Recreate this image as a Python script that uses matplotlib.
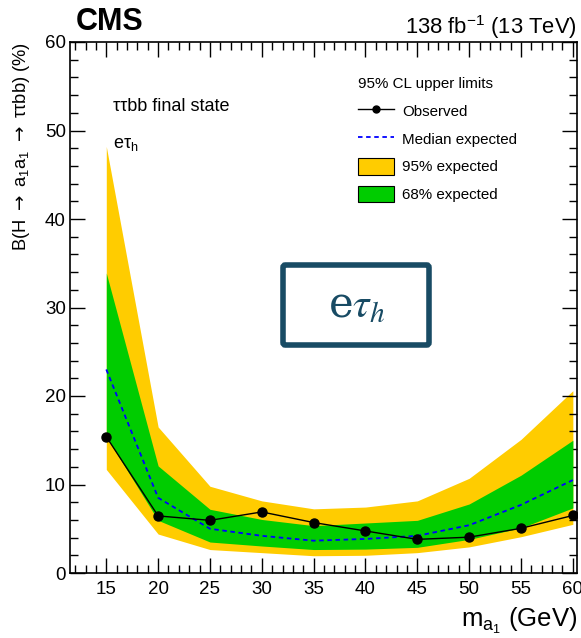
import matplotlib
matplotlib.use("Agg")
import matplotlib.pyplot as plt
from matplotlib.patches import Patch, FancyBboxPatch
from matplotlib.lines import Line2D
from matplotlib.ticker import MultipleLocator

plt.rcParams['font.family'] = ['Liberation Sans', 'DejaVu Sans']
plt.rcParams['mathtext.fontset'] = 'custom'
plt.rcParams['mathtext.rm'] = 'Liberation Sans'
plt.rcParams['mathtext.it'] = 'Liberation Sans:italic'
plt.rcParams['mathtext.bf'] = 'Liberation Sans:bold'

# ---- data ----
mass = [15, 20, 25, 30, 35, 40, 45, 50, 55, 60]
observed = [15.4, 6.45, 5.95, 6.9, 5.7, 4.75, 3.8, 4.05, 5.05, 6.5]
median_exp = [23.0, 8.5, 5.0, 4.2, 3.65, 3.85, 4.2, 5.4, 7.7, 10.5]
exp68_lo = [15.4, 5.95, 3.5, 3.05, 2.65, 2.7, 2.9, 3.8, 5.1, 7.35]
exp68_hi = [33.9, 12.1, 7.2, 6.05, 5.35, 5.65, 5.95, 7.8, 11.05, 15.0]
exp95_lo = [11.7, 4.4, 2.65, 2.3, 1.95, 2.0, 2.3, 2.95, 4.1, 5.5]
exp95_hi = [48.2, 16.5, 9.8, 8.15, 7.25, 7.45, 8.15, 10.7, 15.1, 20.6]
xticks = [15, 20, 25, 30, 35, 40, 45, 50, 55, 60]
yticks = [0, 10, 20, 30, 40, 50, 60]

YELLOW = '#FFCC00'
GREEN = '#00CC00'
TEAL = '#184b64'

W, H = 581, 638
fig = plt.figure(figsize=(W / 100, H / 100), dpi=100)
ax = fig.add_axes([70 / W, 1 - 573 / H, 507 / W, 531 / H])

ax.fill_between(mass, exp95_lo, exp95_hi, color=YELLOW, lw=0, zorder=1)
ax.fill_between(mass, exp68_lo, exp68_hi, color=GREEN, lw=0, zorder=2)
ax.plot(mass, median_exp, color='#0000FF', ls=(0, (2.5, 2)), lw=1.3, zorder=3)
ax.plot(mass, observed, color='black', lw=1.0, marker='o', ms=6.5, zorder=4)

ax.set_xlim(11.5, 60.4)
ax.set_ylim(0, 60)
ax.set_xticks(xticks)
ax.set_yticks(yticks)
ax.xaxis.set_minor_locator(MultipleLocator(1))
ax.yaxis.set_minor_locator(MultipleLocator(2))
ax.tick_params(which='both', direction='in', top=True, right=True, labelsize=13.5, width=1.0)
ax.tick_params(which='major', length=11)
ax.tick_params(which='minor', length=5.5)
ax.tick_params(axis='x', pad=6)
ax.tick_params(axis='y', pad=3)
for s in ax.spines.values():
    s.set_linewidth(1.2)

# titles
fig.text(76 / W, 1 - 30 / H, 'CMS', fontsize=22, fontweight='bold', ha='left', va='baseline')
fig.text(577 / W, 1 - 34 / H, r'138 fb$^{-1}$ (13 TeV)', fontsize=15.8, ha='right', va='baseline')

# axis labels
fig.text(22 / W, 1 - 42 / H, r'B(H $\rightarrow$ a$_{\mathregular{1}}$a$_{\mathregular{1}}$ $\rightarrow$ ττbb) (%)',
         fontsize=13.2, rotation=90, ha='center', va='top', math_fontfamily='dejavusans')
fig.text(577 / W, 1 - 627 / H, r'm$_{\mathregular{a_{1}}}$ (GeV)', fontsize=18.5,
         ha='right', va='baseline')

# in-plot text
fig.text(113 / W, 1 - 111 / H, 'ττbb final state', fontsize=13, ha='left', va='baseline')
fig.text(113 / W, 1 - 148 / H, r'eτ$_{\mathregular{h}}$', fontsize=13, ha='left', va='baseline')

# legend
handles = [
    Line2D([], [], color='black', lw=1.0, marker='o', ms=5),
    Line2D([], [], color='#0000FF', ls=(0, (2.5, 2)), lw=1.3),
    Patch(facecolor=YELLOW, edgecolor='black', lw=0.8),
    Patch(facecolor=GREEN, edgecolor='black', lw=0.8),
]
labels = ['Observed', 'Median expected', '95% expected', '68% expected']
leg = ax.legend(handles, labels, title='95% CL upper limits', loc='upper left',
                bbox_to_anchor=((358 - 70) / 507, 1 - (77 - 42) / 531),
                frameon=False, fontsize=10.9, title_fontsize=10.9, alignment='left',
                handlelength=2.4, handleheight=1.3, handletextpad=0.5,
                labelspacing=0.75, borderaxespad=0, borderpad=0)

# overlay box
box = FancyBboxPatch((283 / W, 1 - 345 / H), 146 / W, 80 / H,
                     boxstyle='round,pad=0,rounding_size=0.004',
                     transform=fig.transFigure, facecolor='white', edgecolor=TEAL,
                     lw=4, zorder=10)
fig.add_artist(box)
t = fig.text(357 / W, 1 - 305 / H, r'e$\tau_h$', fontsize=30, color=TEAL,
             ha='center', va='center', zorder=11, family='DejaVu Serif',
             math_fontfamily='stix')

fig.savefig('out.png', dpi=100)
